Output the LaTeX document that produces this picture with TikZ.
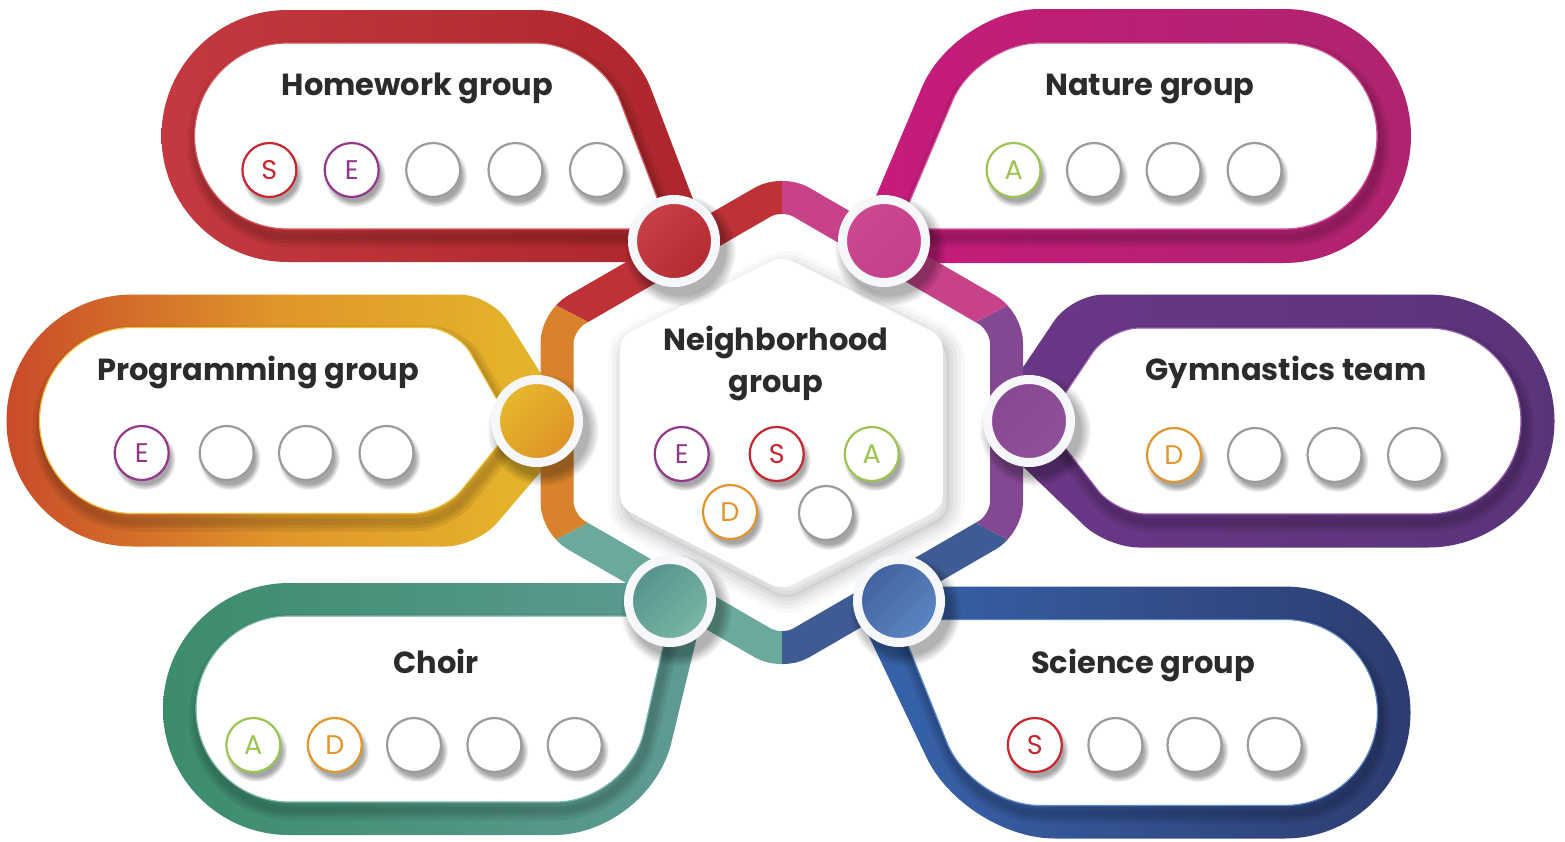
\documentclass[tikz,border=0pt]{standalone}
\usepackage{fontspec}
\setmainfont{Poppins}
\usetikzlibrary{calc,fadings,shadings}

% text and membership colours
\definecolor{txt}{HTML}{2B2B2B}
\definecolor{cS}{HTML}{C8262E}
\definecolor{cE}{HTML}{94378A}
\definecolor{cA}{HTML}{9CC450}
\definecolor{cD}{HTML}{E2952B}
\definecolor{cN}{HTML}{9B9B9B}
\definecolor{ringc}{HTML}{F5F7FA}
% group bands
\definecolor{hwA}{HTML}{C4393F}\definecolor{hwB}{HTML}{AD262B}\definecolor{hwL}{HTML}{D65A60}
\definecolor{ntA}{HTML}{C71B7C}\definecolor{ntB}{HTML}{AE246E}\definecolor{ntL}{HTML}{D45A9E}
\definecolor{pgA}{HTML}{C94B29}\definecolor{pgM}{HTML}{DF962A}\definecolor{pgB}{HTML}{E6B62A}\definecolor{pgL}{HTML}{EDBE3A}
\definecolor{gyA}{HTML}{6B3787}\definecolor{gyB}{HTML}{5A3479}\definecolor{gyL}{HTML}{9A5CAE}
\definecolor{chA}{HTML}{3C8C6B}\definecolor{chB}{HTML}{5F9B95}\definecolor{chL}{HTML}{7DB8AC}
\definecolor{scA}{HTML}{3764AC}\definecolor{scB}{HTML}{2E3C70}\definecolor{scL}{HTML}{5D8ACB}
% hexagon ring segments
\definecolor{hxR}{HTML}{BD3137}\definecolor{hxP}{HTML}{C8428A}\definecolor{hxV}{HTML}{834891}
\definecolor{hxB}{HTML}{3E5B93}\definecolor{hxT}{HTML}{6AA99B}\definecolor{hxO}{HTML}{D8832B}
% hubs
\definecolor{hwH1}{HTML}{CC454B}\definecolor{hwH2}{HTML}{AF262B}
\definecolor{ntH1}{HTML}{CD4B93}\definecolor{ntH2}{HTML}{C23D88}
\definecolor{pgH1}{HTML}{E8C02B}\definecolor{pgH2}{HTML}{DC8A28}
\definecolor{gyH1}{HTML}{864792}\definecolor{gyH2}{HTML}{905299}
\definecolor{chH1}{HTML}{4C8A87}\definecolor{chH2}{HTML}{84BFAB}
\definecolor{scH1}{HTML}{3D5898}\definecolor{scH2}{HTML}{6090CB}

\newcommand\titlefont{\fontsize{30.5pt}{30.5pt}\selectfont\bfseries}
\newcommand\letterfont{\fontsize{27pt}{27pt}\selectfont}

% rounded corner: line to the point #4 before corner #2 (coming from #1), curve to the point #4 after it (towards #3)
\newcommand\rc[5]{-- ($(#2)!#4!(#1)$) .. controls ($(#2)!#5!(#1)$) and ($(#2)!#5!(#3)$) .. ($(#2)!#4!(#3)$)}

% band outlines: outer and inner edge of each group frame
\def\HWout{(287.5,10) \rc{287.5,10}{621,10}{699,215}{85pt}{38pt} -- (699,215) -- (690,262) -- (287.5,262) arc(90:270:126) -- cycle}
\def\HWin{(287.5,43) \rc{287.5,43}{598,43}{669,229}{62pt}{28pt} -- (669,229) -- (287.5,229) arc(90:270:93) -- cycle}
\def\NTout{(1284,9) arc(-90:90:127) -- (875,263) -- (868,215) \rc{868,215}{955,9}{1284,9}{85pt}{38pt} -- cycle}
\def\NTin{(1284,43) arc(-90:90:93) -- (898,229) \rc{898,229}{977,43}{1284,43}{62pt}{28pt} -- cycle}
\def\PGout{(132.5,294.5) \rc{132.5,294.5}{491,294.5}{545,380}{32pt}{14pt} -- (545,380) -- (549,462) \rc{549,462}{477,546.5}{132.5,546.5}{32pt}{14pt} -- (132.5,546.5) arc(90:270:126) -- cycle}
\def\PGin{(132.5,327.5) \rc{132.5,327.5}{456,327.5}{503,410}{30pt}{13.5pt} -- (503,410) -- (509,432) \rc{509,432}{442.5,513.5}{132.5,513.5}{30pt}{13.5pt} -- (132.5,513.5) arc(90:270:93) -- cycle}
\def\GYout{(1428,294.5) \rc{1428,294.5}{1072,294.5}{1011,385}{32pt}{14pt} -- (1011,385) -- (1011,455) \rc{1011,455}{1107,547.5}{1428,547.5}{32pt}{14pt} -- (1428,547.5) arc(90:-90:126.5) -- cycle}
\def\GYin{(1428,328) \rc{1428,328}{1109,328}{1054,410}{30pt}{13.5pt} -- (1054,410) -- (1053,432) \rc{1053,432}{1116,514}{1428,514}{30pt}{13.5pt} -- (1428,514) arc(90:-90:93) -- cycle}
\def\CHout{(289,583) -- (670,583) -- (701,620) \rc{701,620}{649,835}{289,835}{95pt}{42pt} -- (289,835) arc(90:270:126) -- cycle}
\def\CHin{(289,616) -- (670,616) \rc{670,616}{628,802}{289,802}{72pt}{32pt} -- (289,802) arc(90:270:93) -- cycle}
\def\SCout{(1284.5,586.5) arc(-90:90:126) \rc{1284.5,838.5}{965,838.5}{863.6,625}{90pt}{40pt} -- (863.6,625) -- (880,586.5) -- cycle}
\def\SCin{(1284.5,619.5) arc(-90:90:93) \rc{1284.5,805.5}{972,805.5}{897.7,619.5}{68pt}{30pt} -- (897.7,619.5) -- cycle}
% central hexagon: ring centre line and raised card
\def\HEXband{(557,422.5) -- (557,321) -- (782,191) -- (1006.5,321) -- (1006.5,524) -- (782,654) -- (557,524) -- cycle}
\def\HEXcard{(620,422) -- (620,337) -- (782,256) -- (943,337) -- (943,507) -- (782,590) -- (620,507) -- cycle}

\tikzset{
  member/.style={circle, draw=#1, line width=2.2pt, minimum size=54pt, inner sep=0pt, fill=white, text=#1, font=\letterfont},
  title/.style={font=\titlefont, text=txt, anchor=base, inner sep=0pt},
  hub/.style 2 args={circle, minimum size=83pt, draw=ringc, line width=9pt, upper left=#1, lower right=#2, upper right=#1!50!#2, lower left=#1!50!#2},
  softshadow/.style={black, opacity=#1, path fading=circle with fuzzy edge 20 percent},
  ringseg/.style={draw=#1, line width=33pt, rounded corners=22pt},
  edgeline/.style={draw=#1, line width=1.2pt}
}

% member circle with its soft shadow
\newcommand\mem[5]{%
  \fill[softshadow=0.35] (#2+3,#3+6) circle[radius=31pt];
  \node[member=#4] (#1) at (#2,#3) {#5};}

% shadow cast by the white panel onto its band, then the thin rim
\newcommand\bandshadow[3]{% outer, inner, rim colour
  \begin{scope}[even odd rule]
    \clip #1 #2;
    \begin{scope}[shift={(3,8)}]
      \foreach \w in {20,13,7}
        \path[draw=black, opacity=0.07, line width=\w pt, line join=round] #2;
    \end{scope}
  \end{scope}
  \path[edgeline=#3] #2;}

\begin{document}
\begin{tikzpicture}[x=1pt,y=-1pt]
\useasboundingbox (0,0) rectangle (1565,841);
\fill[white] (0,0) rectangle (1565,841);

% group frames
\shade[even odd rule, left color=hwA, right color=hwB] \HWout \HWin;
\bandshadow{\HWout}{\HWin}{hwL}
\shade[even odd rule, left color=ntA, right color=ntB] \NTout \NTin;
\bandshadow{\NTout}{\NTin}{ntL}
\shade[even odd rule, left color=pgA, right color=pgB, middle color=pgM] \PGout \PGin;
\bandshadow{\PGout}{\PGin}{pgL}
\shade[even odd rule, left color=gyA, right color=gyB] \GYout \GYin;
\bandshadow{\GYout}{\GYin}{gyL}
\shade[even odd rule, left color=chA, right color=chB] \CHout \CHin;
\bandshadow{\CHout}{\CHin}{chL}
\shade[even odd rule, left color=scA, right color=scB] \SCout \SCin;
\bandshadow{\SCout}{\SCin}{scL}

% hexagonal ring, one colour per sector
\begin{scope}\clip (782,422.5) -- (782,100) -- (400,100) -- (400,224.5) -- cycle; \path[ringseg=hxR] \HEXband; \end{scope}
\begin{scope}\clip (782,422.5) -- (400,224.5) -- (400,620.5) -- cycle; \path[ringseg=hxO] \HEXband; \end{scope}
\begin{scope}\clip (782,422.5) -- (400,620.5) -- (400,750) -- (782,750) -- cycle; \path[ringseg=hxT] \HEXband; \end{scope}
\begin{scope}\clip (782,422.5) -- (782,750) -- (1164,750) -- (1164,620.5) -- cycle; \path[ringseg=hxB] \HEXband; \end{scope}
\begin{scope}\clip (782,422.5) -- (1164,620.5) -- (1164,224.5) -- cycle; \path[ringseg=hxV] \HEXband; \end{scope}
\begin{scope}\clip (782,422.5) -- (1164,224.5) -- (1164,100) -- (782,100) -- cycle; \path[ringseg=hxP] \HEXband; \end{scope}

% raised card with soft shadow
\begin{scope}[shift={(5,9)}]
  \foreach \w/\o in {34/0.025, 26/0.03, 18/0.035, 10/0.04, 3/0.05}
    \path[draw=black, opacity=\o, line width=\w pt, line join=round, rounded corners=12pt] \HEXcard;
\end{scope}
\path[fill=white, rounded corners=12pt] \HEXcard;

% hubs
\fill[softshadow=0.3] (680,250) circle[radius=56pt];
\node[hub={hwH1}{hwH2}] (hwHub) at (674,241) {};
\fill[softshadow=0.3] (890,250) circle[radius=56pt];
\node[hub={ntH1}{ntH2}] (ntHub) at (884,241) {};
\fill[softshadow=0.3] (543,430) circle[radius=56pt];
\node[hub={pgH1}{pgH2}] (pgHub) at (537,421) {};
\fill[softshadow=0.3] (1035,430) circle[radius=56pt];
\node[hub={gyH1}{gyH2}] (gyHub) at (1029,421) {};
\fill[softshadow=0.3] (676,610) circle[radius=56pt];
\node[hub={chH1}{chH2}] (chHub) at (670,601) {};
\fill[softshadow=0.3] (905,610) circle[radius=56pt];
\node[hub={scH1}{scH2}] (scHub) at (899,601) {};

% titles
\node[title] (hwT) at (417.5,95) {Homework group};
\node[title] (ntT) at (1150,95) {Nature group};
\node[title] (pgT) at (258,380) {Programming group};
\node[title] (gyT) at (1286,380) {Gymnastics team};
\node[title] (chT) at (436,673) {Choir};
\node[title] (scT) at (1143,673) {Science group};
\node[title] (nbT1) at (776,350) {Neighborhood};
\node[title] (nbT2) at (776,392) {group};

% members
\mem{hw1}{269.4}{170}{cS}{S}
\mem{hw2}{351.7}{170}{cE}{E}
\mem{hw3}{433.2}{170}{cN}{}
\mem{hw4}{515.5}{170}{cN}{}
\mem{hw5}{597}{170}{cN}{}

\mem{nt1}{1013.6}{170}{cA}{A}
\mem{nt2}{1094}{170}{cN}{}
\mem{nt3}{1173.6}{170}{cN}{}
\mem{nt4}{1254.6}{170}{cN}{}

\mem{pg1}{141.7}{453}{cE}{E}
\mem{pg2}{226.7}{453}{cN}{}
\mem{pg3}{306}{453}{cN}{}
\mem{pg4}{386.5}{453}{cN}{}

\mem{gy1}{1174}{455}{cD}{D}
\mem{gy2}{1255}{455}{cN}{}
\mem{gy3}{1334.5}{455}{cN}{}
\mem{gy4}{1415}{455}{cN}{}

\mem{ch1}{253.3}{745}{cA}{A}
\mem{ch2}{334.8}{745}{cD}{D}
\mem{ch3}{414}{745}{cN}{}
\mem{ch4}{494.4}{745}{cN}{}
\mem{ch5}{574.8}{745}{cN}{}

\mem{sc1}{1034.8}{745}{cS}{S}
\mem{sc2}{1115.4}{745}{cN}{}
\mem{sc3}{1194.5}{745}{cN}{}
\mem{sc4}{1274.7}{745}{cN}{}

\mem{nb1}{681.7}{454}{cE}{E}
\mem{nb2}{776.7}{454}{cS}{S}
\mem{nb3}{871.7}{454}{cA}{A}
\mem{nb4}{730}{512}{cD}{D}
\mem{nb5}{826}{513}{cN}{}
\end{tikzpicture}
\end{document}
